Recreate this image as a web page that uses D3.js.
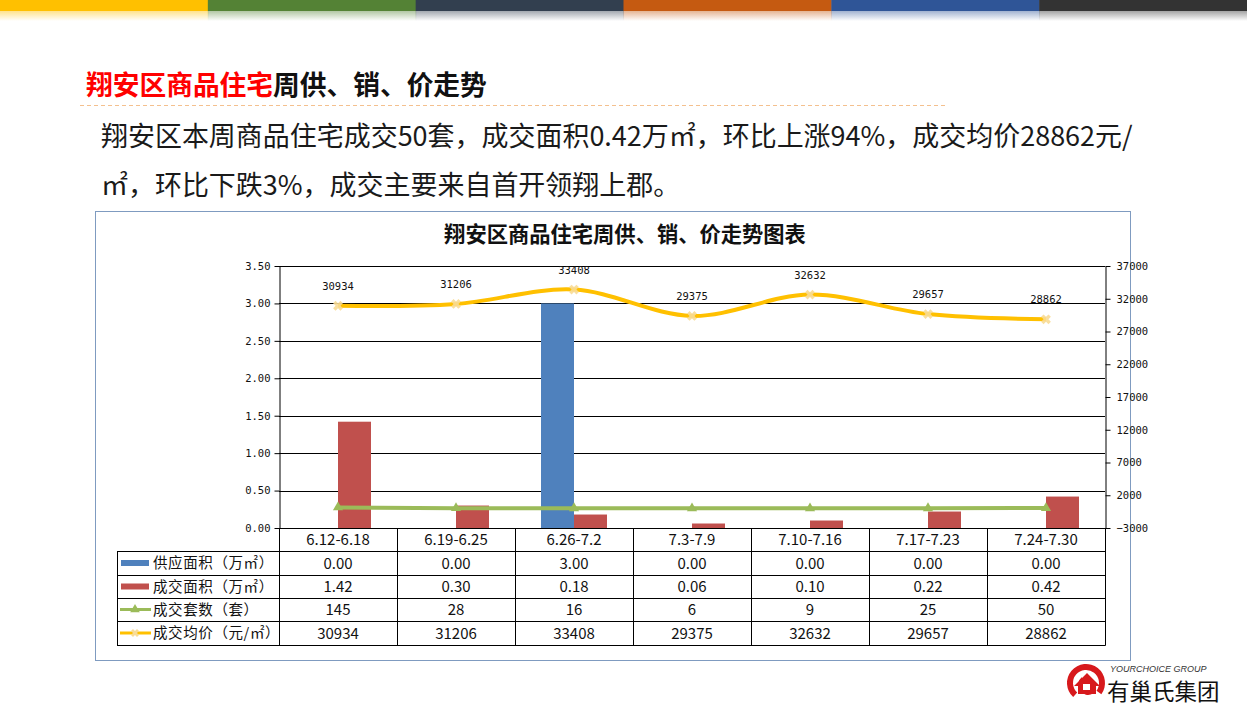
<!DOCTYPE html>
<html><head><meta charset="utf-8">
<script src="https://cdn.jsdelivr.net/npm/d3@7"></script>
<style>
html,body{margin:0;padding:0;background:#fff;}
svg{display:block;}
</style></head>
<body>
<svg id="c" width="1247" height="718"></svg>
<script>
// ---- data ----
const categories = ["6.12-6.18","6.19-6.25","6.26-7.2","7.3-7.9","7.10-7.16","7.17-7.23","7.24-7.30"];
const supplyArea = [0.00,0.00,3.00,0.00,0.00,0.00,0.00];
const salesArea = [1.42,0.30,0.18,0.06,0.10,0.22,0.42];
const salesUnits = [145,28,16,6,9,25,50];
const avgPrice = [30934,31206,33408,29375,32632,29657,28862];
const leftTicks = [0,0.5,1,1.5,2,2.5,3,3.5];
const rightTicks = [-3000,2000,7000,12000,17000,22000,27000,32000,37000];
const seriesNames = ["供应面积（万㎡）","成交面积（万㎡）","成交套数（套）","成交均价（元/㎡）"];
const stripeColors = ["#FFC000","#548235","#323F4F","#C55A11","#2F5597","#333333"];
const titleRed = "翔安区商品住宅";
const titleBlack = "周供、销、价走势";
const paraLines = ["翔安区本周商品住宅成交50套，成交面积0.42万㎡，环比上涨94%，成交均价28862元/","㎡，环比下跌3%，成交主要来自首开领翔上郡。"];
const chartTitle = "翔安区商品住宅周供、销、价走势图表";

const svg = d3.select("#c");
const CJK = "'Noto Sans CJK SC','Noto Sans',sans-serif";
const MONO = "'DejaVu Sans Mono','Liberation Mono',monospace";

// ---- top stripe ----
const defs = svg.append("defs");
const sw = 1247/stripeColors.length;
stripeColors.forEach((c,i)=>{
  const g = defs.append("linearGradient").attr("id","fade"+i).attr("x1",0).attr("y1",0).attr("x2",0).attr("y2",1);
  g.append("stop").attr("offset","0%").attr("stop-color",c).attr("stop-opacity",0.45);
  g.append("stop").attr("offset","100%").attr("stop-color",c).attr("stop-opacity",0);
  svg.append("rect").attr("x",i*sw).attr("y",0).attr("width",sw+0.5).attr("height",11).attr("fill",c);
  svg.append("rect").attr("x",i*sw).attr("y",11).attr("width",sw+0.5).attr("height",10).attr("fill",`url(#fade${i})`);
});

// ---- heading ----
const head = svg.append("text").attr("x",86).attr("y",95).attr("font-family",CJK).attr("font-weight","bold").attr("font-size",25);
head.append("tspan").attr("fill","#FF0000").text(titleRed);
head.append("tspan").attr("fill","#111").text(titleBlack);
{
  const w = head.node().getComputedTextLength();
  head.attr("font-size", 25*401/w);
}
svg.append("line").attr("x1",80).attr("x2",948).attr("y1",105.5).attr("y2",105.5)
  .attr("stroke","#F4C08E").attr("stroke-dasharray","4,3").attr("stroke-width",1);

// ---- paragraph ----
const p1 = svg.append("text").attr("x",101).attr("y",146).attr("font-family",CJK).attr("font-size",24).attr("fill","#1a1a1a").text(paraLines[0]);
const pw = p1.node().getComputedTextLength();
const pfs = 24*1032/pw;
p1.attr("font-size",pfs);
svg.append("text").attr("x",101).attr("y",195).attr("font-family",CJK).attr("font-size",pfs).attr("fill","#1a1a1a").text(paraLines[1]);

// ---- chart frame ----
svg.append("rect").attr("x",95.5).attr("y",211.5).attr("width",1035).attr("height",449)
  .attr("fill","#fff").attr("stroke","#7F9BC0").attr("stroke-width",1);
const ct = svg.append("text").attr("x",625).attr("y",242).attr("text-anchor","middle").attr("font-family",CJK)
  .attr("font-weight","bold").attr("font-size",20).attr("fill","#111").text(chartTitle);
{
  const w = ct.node().getComputedTextLength();
  ct.attr("font-size", 20*362/w);
}

// ---- scales ----
const L = 279, R = 1105, T = 266, B = 528;
const x = d3.scaleBand().domain(categories).range([L,R]).padding(0);
const yL = d3.scaleLinear().domain([0,3.5]).range([B,T]);
const yR = d3.scaleLinear().domain([-3000,37000]).range([B,T]);
const inner = d3.scaleBand().domain(["supply","sales"]).range([0,66]);
const off = (x.bandwidth()-66)/2;

// gridlines
svg.append("g").selectAll("line").data(leftTicks).join("line")
  .attr("x1",L).attr("x2",R).attr("y1",d=>Math.round(yL(d))+0.5).attr("y2",d=>Math.round(yL(d))+0.5)
  .attr("stroke","#000").attr("stroke-width",1);

// bars
const bars = svg.append("g");
bars.selectAll("rect.s").data(categories).join("rect").attr("class","s")
  .attr("x",(d)=>x(d)+off+inner("supply")).attr("width",inner.bandwidth())
  .attr("y",(d,i)=>yL(supplyArea[i])).attr("height",(d,i)=>B-yL(supplyArea[i])).attr("fill","#4F81BD");
bars.selectAll("rect.r").data(categories).join("rect").attr("class","r")
  .attr("x",(d)=>x(d)+off+inner("sales")).attr("width",inner.bandwidth())
  .attr("y",(d,i)=>yL(salesArea[i])).attr("height",(d,i)=>B-yL(salesArea[i])).attr("fill","#C0504D");

// axes
const axL = svg.append("g").attr("transform",`translate(${L+0.5},0)`)
  .call(d3.axisLeft(yL).tickValues(leftTicks).tickFormat(d3.format(".2f")).tickSize(5).tickSizeOuter(0));
const axR = svg.append("g").attr("transform",`translate(${R+0.5},0)`)
  .call(d3.axisRight(yR).tickValues(rightTicks).tickFormat(d3.format("d")).tickSize(5).tickSizeOuter(0));
[axL,axR].forEach(a=>{
  a.selectAll("path,line").attr("stroke","#000");
  a.selectAll("text").attr("font-family",MONO).attr("font-size",10.5).attr("fill","#111");
});
axL.selectAll("text").attr("x",-9);
axR.selectAll("text").attr("x",11).text(d=>d<0?"\u2212"+Math.abs(d):d);

// lines
const cx = d=>x(d)+x.bandwidth()/2;
const unitLine = d3.line().x((d,i)=>cx(categories[i])).y(d=>yR(d));
svg.append("path").datum(salesUnits).attr("d",unitLine).attr("fill","none")
  .attr("stroke","#9BBB59").attr("stroke-width",4);
svg.append("g").selectAll("path").data(salesUnits).join("path")
  .attr("d",d3.symbol(d3.symbolTriangle,45))
  .attr("transform",(d,i)=>`translate(${cx(categories[i])},${yR(d)})`)
  .attr("fill","#9BBB59");

const priceLine = d3.line().x((d,i)=>cx(categories[i])).y(d=>yR(d)).curve(d3.curveCardinal.tension(0));
svg.append("path").datum(avgPrice).attr("d",priceLine).attr("fill","none")
  .attr("stroke","#FFC000").attr("stroke-width",4);
svg.append("g").selectAll("path").data(avgPrice).join("path")
  .attr("d",d3.symbol(d3.symbolCross,60))
  .attr("transform",(d,i)=>`translate(${cx(categories[i])},${yR(d)}) rotate(45)`)
  .attr("fill","#F8DC96").attr("opacity",0.9);
svg.append("g").selectAll("text").data(avgPrice).join("text")
  .attr("x",(d,i)=>cx(categories[i])).attr("y",d=>yR(d)-16)
  .attr("text-anchor","middle").attr("font-family",MONO).attr("font-size",10.5).attr("fill","#111")
  .text(d=>d);

// ---- data table ----
const tL = 117, rowH = [528,551,575,598,621,645];
const tbl = svg.append("g");
rowH.slice(1).forEach(y=>{
  tbl.append("line").attr("x1",tL).attr("x2",R+0.5).attr("y1",y+0.5).attr("y2",y+0.5).attr("stroke","#000");
});
const vx = categories.map(c=>x(c)).concat([R]);
vx.forEach(v=>{
  tbl.append("line").attr("x1",Math.round(v)+0.5).attr("x2",Math.round(v)+0.5).attr("y1",B).attr("y2",645.5).attr("stroke","#000");
});
tbl.append("line").attr("x1",tL+0.5).attr("x2",tL+0.5).attr("y1",551).attr("y2",645.5).attr("stroke","#000");
tbl.selectAll("text.h").data(categories).join("text").attr("class","h")
  .attr("x",d=>cx(d)).attr("y",(rowH[0]+rowH[1])/2+5.5).attr("text-anchor","middle")
  .attr("font-family",CJK).attr("font-size",15).attr("fill","#111").text(d=>d);
const rows = [
  supplyArea.map(v=>v.toFixed(2)),
  salesArea.map(v=>v.toFixed(2)),
  salesUnits.map(String),
  avgPrice.map(String)
];
rows.forEach((r,ri)=>{
  const yc = (rowH[ri+1]+rowH[ri+2])/2;
  tbl.selectAll("text.v"+ri).data(r).join("text").attr("class","v"+ri)
    .attr("x",(d,i)=>cx(categories[i])).attr("y",yc+5.5).attr("text-anchor","middle")
    .attr("font-family",CJK).attr("font-size",15).attr("fill","#111").text(d=>d);
  tbl.append("text").attr("x",153).attr("y",yc+5).attr("font-family",CJK).attr("font-size",14.5)
    .attr("letter-spacing",0.6).attr("fill","#111").text(seriesNames[ri]);
  if(ri<2){
    tbl.append("rect").attr("x",121).attr("y",yc-3).attr("width",28).attr("height",6)
      .attr("fill",ri===0?"#4F81BD":"#C0504D");
  } else if(ri===2){
    tbl.append("line").attr("x1",120).attr("x2",151).attr("y1",yc).attr("y2",yc).attr("stroke","#9BBB59").attr("stroke-width",3);
    tbl.append("path").attr("d",d3.symbol(d3.symbolTriangle,40)).attr("transform",`translate(135,${yc})`).attr("fill","#9BBB59");
  } else {
    tbl.append("line").attr("x1",120).attr("x2",151).attr("y1",yc).attr("y2",yc).attr("stroke","#FFC000").attr("stroke-width",3);
    tbl.append("path").attr("d",d3.symbol(d3.symbolCross,40)).attr("transform",`translate(135,${yc}) rotate(45)`).attr("fill","#F8DC96");
  }
});

// ---- logo ----
const lg = svg.append("g");
const arc = d3.arc();
lg.append("path").attr("transform","translate(1086,683)")
  .attr("d",arc({innerRadius:13,outerRadius:19,startAngle:-2.4,endAngle:2.2})).attr("fill","#D7191C");
lg.append("path").attr("transform","translate(1088,685)")
  .attr("d",arc({innerRadius:6,outerRadius:10,startAngle:2.6,endAngle:5.6})).attr("fill","#D7191C");
lg.append("path").attr("d","M1074,686 L1087,673 L1100,686 L1096,686 L1096,694 L1078,694 L1078,686 Z").attr("fill","#D7191C");
lg.append("rect").attr("x",1083).attr("y",684).attr("width",7).attr("height",6).attr("fill","#fff");
lg.append("text").attr("x",1110).attr("y",672).attr("font-family","'Liberation Sans',Arial,sans-serif")
  .attr("font-style","italic").attr("font-size",9).attr("fill","#333").text("YOURCHOICE GROUP");
lg.append("text").attr("x",1107).attr("y",700).attr("font-family",CJK).attr("font-size",22.5)
  .attr("fill","#111").text("有巢氏集团");
</script>
</body></html>
